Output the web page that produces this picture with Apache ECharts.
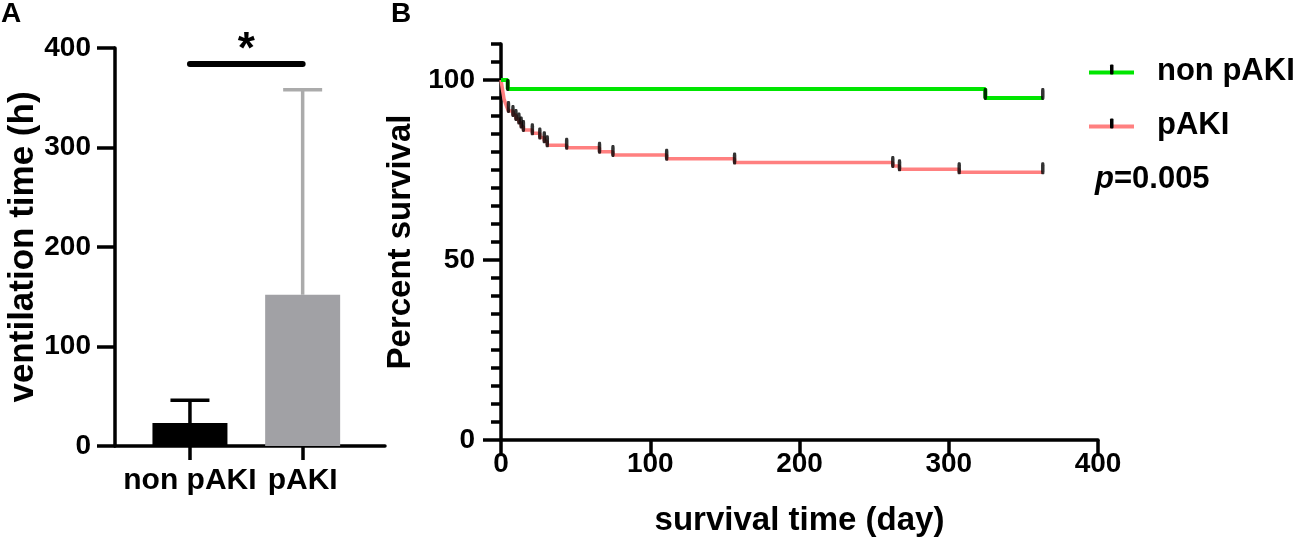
<!DOCTYPE html>
<html>
<head>
<meta charset="utf-8">
<script src="https://cdn.jsdelivr.net/npm/echarts@6/dist/echarts.min.js"></script>
<style>html,body{margin:0;padding:0;background:#fff}#c{width:1299px;height:548px}</style>
</head>
<body>
<div id="c"></div>
<script>
// ---- Panel A data ----
const barCategories = ['non pAKI', 'pAKI'];
const barMeans = [23, 152];
const barSD = [23, 206];
const sigLevel = 384;
const sigLabel = '*';

// ---- Panel B data (Kaplan-Meier) ----
const nonPakiTimes = [0, 4.5, 324.5, 363];
const nonPakiSurv = [100, 97.5, 95, 95];
const nonPakiCensorTimes = [4.5, 324.5, 363];
const nonPakiCensorSurv = [97.5, 95, 95];

const pakiTimes = [0, 0.5, 1, 1.5, 2, 3, 4, 5, 8, 10, 12, 13.5, 15, 21, 26, 29, 31, 44, 66, 75, 111, 156.5, 262.5, 267, 307, 363];
const pakiSurv  = [100, 98.7, 97.4, 96.1, 94.8, 93.5, 92.4, 91.4, 90.3, 89.2, 88.2, 87.1, 86.1, 85.2, 84.0, 83.0, 81.9, 81.2, 80.1, 79.2, 78.1, 77.1, 76.1, 75.2, 74.4, 74.4];
const pakiCensorTimes = [5, 8, 10, 12, 13.5, 15, 21, 26, 29, 31, 44, 66, 75, 111, 156.5, 262.5, 267, 307, 363];
const pakiCensorSurv  = [91.4, 90.3, 89.2, 88.2, 87.1, 86.1, 85.2, 84.0, 83.0, 81.9, 81.2, 80.1, 79.2, 78.1, 77.1, 76.1, 75.2, 74.4, 74.4];

const ventTickValues = [0, 100, 200, 300, 400];
const survTickLabels = [0, 50, 100];
const pValueText = '0.005';

const FONT = "'Liberation Sans', Arial, Helvetica, sans-serif";
const GREEN = '#00e600';
const RED = '#ff8080';
const zip = (a, b) => a.map((v, i) => [v, b[i]]);

function legendIcon(color) {
  const svg = "<svg xmlns='http://www.w3.org/2000/svg' width='45' height='16'>" +
    "<rect x='0' y='7' width='45' height='4' fill='" + color + "'/>" +
    "<rect x='21' y='1' width='3.5' height='10' rx='1' fill='#000'/></svg>";
  return 'image://data:image/svg+xml;charset=utf-8,' + encodeURIComponent(svg);
}

const chart = echarts.init(document.getElementById('c'), null, {renderer: 'canvas'});
const bold = {fontFamily: FONT, fontWeight: 'bold', color: '#000'};

chart.setOption({
  animation: false,
  backgroundColor: '#fff',
  title: [
    {text: 'A', left: 1, top: 0, padding: 0, textStyle: Object.assign({fontSize: 28}, bold)},
    {text: 'B', left: 391, top: 0, padding: 0, textStyle: Object.assign({fontSize: 28}, bold)},
    {text: '{i|p}{b|=' + pValueText + '}', left: 1095, top: 164, padding: 0,
     textStyle: {rich: {
       i: Object.assign({fontSize: 31, fontStyle: 'italic'}, bold),
       b: Object.assign({fontSize: 31}, bold)
     }}}
  ],
  legend: {
    orient: 'vertical', left: 1089, top: 56, padding: 0,
    itemWidth: 45, itemHeight: 16, itemGap: 23,
    selectedMode: false,
    textStyle: Object.assign({fontSize: 31, padding: [0, 0, 0, 18]}, bold),
    data: [
      {name: 'non pAKI', icon: legendIcon(GREEN)},
      {name: 'pAKI', icon: legendIcon(RED)}
    ]
  },
  grid: [
    {left: 115, top: 48, width: 270, height: 398},
    {left: 133.6, top: 48, width: 225.4, height: 398},
    {left: 501, top: 44, width: 597, height: 396}
  ],
  xAxis: [
    {gridIndex: 0, type: 'value', min: 0, max: 1,
     axisLine: {show: true, lineStyle: {color: '#000', width: 3.5}},
     axisTick: {show: false}, axisLabel: {show: false}, splitLine: {show: false}},
    {gridIndex: 1, type: 'category', data: barCategories,
     axisLine: {show: false},
     axisTick: {show: true, alignWithLabel: true, length: 14, lineStyle: {color: '#000', width: 3.5}},
     axisLabel: Object.assign({fontSize: 30, margin: 20, interval: 0, hideOverlap: false}, bold),
     splitLine: {show: false}},
    {gridIndex: 2, type: 'value', min: 0, max: 400, interval: 100,
     axisLine: {show: true, lineStyle: {color: '#000', width: 3.5}},
     axisTick: {show: true, length: 15, lineStyle: {color: '#000', width: 3.5}},
     axisLabel: Object.assign({fontSize: 28, margin: 10}, bold),
     splitLine: {show: false},
     name: 'survival time (day)', nameLocation: 'middle', nameGap: 64,
     nameTextStyle: Object.assign({fontSize: 33}, bold)}
  ],
  yAxis: [
    {gridIndex: 0, type: 'value', min: 0, max: 400, interval: 100, position: 'left',
     axisLine: {show: true, lineStyle: {color: '#000', width: 3.5}},
     axisTick: {show: true, length: 18, lineStyle: {color: '#000', width: 3.5}},
     axisLabel: Object.assign({fontSize: 28, margin: 24}, bold),
     splitLine: {show: false},
     name: 'ventilation time (h)', nameLocation: 'middle', nameGap: 72,
     nameTextStyle: Object.assign({fontSize: 35}, bold)},
    {gridIndex: 1, type: 'value', min: 0, max: 400, show: false},
    {gridIndex: 2, type: 'value', min: 0, max: 110, interval: 5, position: 'left',
     axisLine: {show: true, lineStyle: {color: '#000', width: 3.5}},
     axisTick: {show: true, length: 10, lineStyle: {color: '#000', width: 3.5}},
     axisLabel: Object.assign({fontSize: 28, margin: 26,
       customValues: survTickLabels}, bold),
     splitLine: {show: false},
     name: 'Percent survival', nameLocation: 'middle', nameGap: 84,
     nameTextStyle: Object.assign({fontSize: 33}, bold)},
    {gridIndex: 2, type: 'value', min: 0, max: 110, position: 'left', offset: 0,
     axisLine: {show: false},
     axisTick: {show: true, length: 18, customValues: survTickLabels, lineStyle: {color: '#000', width: 3.5}},
     axisLabel: {show: false}, splitLine: {show: false}}
  ],
  series: [
    {name: 'ventilation', type: 'bar', xAxisIndex: 1, yAxisIndex: 1, barWidth: 75,
     data: barMeans.map((v, i) => ({value: v, itemStyle: {color: i === 0 ? '#000000' : '#a1a1a5'}})),
     silent: true,
     markLine: {
       symbol: 'none', silent: true,
       lineStyle: {color: '#000', width: 6, type: 'solid', cap: 'round'},
       label: Object.assign({show: true, position: 'middle', formatter: sigLabel, fontSize: 44, distance: -9}, bold),
       emphasis: {disabled: true},
       data: [[{coord: [0, sigLevel]}, {coord: [1, sigLevel]}]]
     }},
    {name: 'sd', type: 'custom', xAxisIndex: 1, yAxisIndex: 1, silent: true,
     data: barMeans.map((m, i) => [i, m, barSD[i]]),
     renderItem: function (params, api) {
       const x = api.value(0), m = api.value(1), sd = api.value(2);
       const p0 = api.coord([x, m]);
       const p1 = api.coord([x, m + sd]);
       const col = params.dataIndex === 0 ? '#000000' : '#ababab';
       const hw = 19.5;
       return {type: 'group', children: [
         {type: 'line', shape: {x1: p0[0], y1: p0[1], x2: p1[0], y2: p1[1]}, style: {stroke: col, lineWidth: 3.5}},
         {type: 'line', shape: {x1: p1[0] - hw, y1: p1[1], x2: p1[0] + hw, y2: p1[1]}, style: {stroke: col, lineWidth: 3.5}}
       ]};
     }},
    {name: 'pAKI', type: 'line', xAxisIndex: 2, yAxisIndex: 2, step: 'end',
     showSymbol: false, symbol: 'none', color: RED, lineStyle: {color: RED, width: 3.5},
     data: zip(pakiTimes, pakiSurv), silent: true, z: 2},
    {name: 'non pAKI', type: 'line', xAxisIndex: 2, yAxisIndex: 2, step: 'end',
     showSymbol: false, symbol: 'none', color: GREEN, lineStyle: {color: GREEN, width: 4},
     data: zip(nonPakiTimes, nonPakiSurv), silent: true, z: 3},
    {name: 'pAKI censored', type: 'scatter', xAxisIndex: 2, yAxisIndex: 2,
     symbol: 'roundRect', symbolSize: [3.5, 12], symbolOffset: [0, -4],
     itemStyle: {color: '#000'}, data: zip(pakiCensorTimes, pakiCensorSurv), silent: true, z: 4},
    {name: 'non pAKI censored', type: 'scatter', xAxisIndex: 2, yAxisIndex: 2,
     symbol: 'roundRect', symbolSize: [3.5, 12], symbolOffset: [0, -4],
     itemStyle: {color: '#000'}, data: zip(nonPakiCensorTimes, nonPakiCensorSurv), silent: true, z: 4}
  ]
});
</script>
</body>
</html>
